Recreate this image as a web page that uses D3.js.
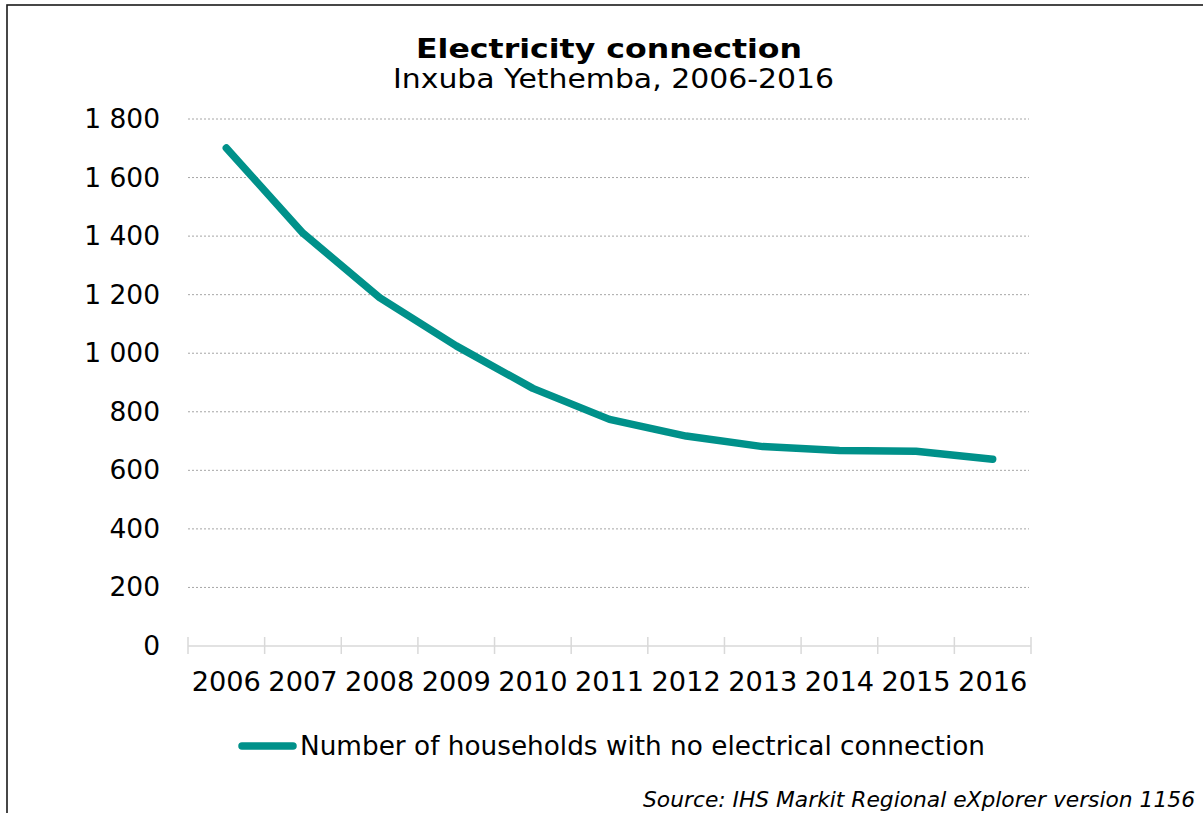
<!DOCTYPE html>
<html>
<head>
<meta charset="utf-8">
<script src="https://cdn.jsdelivr.net/npm/d3@7"></script>
<style>
  html, body { margin: 0; padding: 0; background: #fff; }
  svg { display: block; font-family: "DejaVu Sans", Verdana, sans-serif; }
</style>
</head>
<body>
<svg id="chart" width="1203" height="813"></svg>
<script>
// Households without an electrical connection, Inxuba Yethemba
const years = ["2006", "2007", "2008", "2009", "2010", "2011", "2012", "2013", "2014", "2015", "2016"];
const households = [1701, 1410, 1190, 1025, 880, 774, 717, 681, 668, 665, 638];
const yTicks = [0, 200, 400, 600, 800, 1000, 1200, 1400, 1600, 1800];
const seriesName = "Number of households with no electrical connection";
const titleText = "Electricity connection";
const subtitleText = "Inxuba Yethemba, 2006-2016";
const sourceText = "Source: IHS Markit Regional eXplorer version 1156";

const svg = d3.select("#chart");
const lineColor = "#00918a";

// outer frame (extends past the right and bottom edges)
svg.append("rect")
  .attr("x", 7).attr("y", 5)
  .attr("width", 1260).attr("height", 900)
  .attr("fill", "none").attr("stroke", "#1a1a1a").attr("stroke-width", 1.6);

const plot = { left: 188, right: 1031, top: 119, bottom: 646 };

const x = d3.scaleBand().domain(years).range([plot.left, plot.right]).padding(0);
const y = d3.scaleLinear().domain([0, 1800]).range([plot.bottom, plot.top]);

const fmt = d3.formatLocale({ decimal: ".", thousands: " ", grouping: [3], currency: ["", ""] }).format(",d");

// fit a text element to a given rendered width
function fitWidth(sel, w) {
  sel.attr("textLength", w).attr("lengthAdjust", "spacingAndGlyphs");
}

// horizontal dotted gridlines
svg.append("g")
  .selectAll("line")
  .data(yTicks.filter(d => d > 0))
  .join("line")
  .attr("x1", plot.left).attr("x2", plot.right - 2)
  .attr("y1", d => y(d)).attr("y2", d => y(d))
  .attr("stroke", "#a6a6a6").attr("stroke-width", 1)
  .attr("stroke-dasharray", "2,2");

// y axis labels
svg.append("g")
  .selectAll("text")
  .data(yTicks)
  .join("text")
  .attr("x", 160).attr("y", d => y(d) + 9)
  .attr("text-anchor", "end")
  .attr("font-size", 26.5)
  .attr("fill", "#000")
  .text(d => fmt(d));

// x axis with cross ticks at category boundaries
const xAxisG = svg.append("g");
xAxisG.append("line")
  .attr("x1", plot.left).attr("x2", plot.right)
  .attr("y1", y(0)).attr("y2", y(0))
  .attr("stroke", "#d9d9d9").attr("stroke-width", 1.5);
const boundaries = years.map(d => x(d)).concat([x(years[years.length - 1]) + x.bandwidth()]);
xAxisG.selectAll("line.tick")
  .data(boundaries)
  .join("line")
  .attr("class", "tick")
  .attr("x1", d => d).attr("x2", d => d)
  .attr("y1", y(0) - 9).attr("y2", y(0) + 8)
  .attr("stroke", "#d9d9d9").attr("stroke-width", 1.5);
xAxisG.selectAll("text")
  .data(years)
  .join("text")
  .attr("x", d => x(d) + x.bandwidth() / 2)
  .attr("y", 691)
  .attr("text-anchor", "middle")
  .attr("font-size", 27.2)
  .attr("fill", "#000")
  .text(d => d);

// series line
const line = d3.line()
  .x((d, i) => x(years[i]) + x.bandwidth() / 2)
  .y(d => y(d));
svg.append("path")
  .datum(households)
  .attr("d", line)
  .attr("fill", "none")
  .attr("stroke", lineColor)
  .attr("stroke-width", 7.5)
  .attr("stroke-linecap", "round")
  .attr("stroke-linejoin", "round");

// titles
svg.append("text")
  .attr("x", 609).attr("y", 58)
  .attr("text-anchor", "middle")
  .attr("font-size", 27).attr("font-weight", "bold")
  .text(titleText)
  .call(fitWidth, 386);
svg.append("text")
  .attr("x", 613.5).attr("y", 88)
  .attr("text-anchor", "middle")
  .attr("font-size", 26)
  .text(subtitleText)
  .call(fitWidth, 441);

// legend
const legend = svg.append("g");
legend.append("line")
  .attr("x1", 242).attr("x2", 293)
  .attr("y1", 746).attr("y2", 746)
  .attr("stroke", lineColor).attr("stroke-width", 7.5)
  .attr("stroke-linecap", "round");
legend.append("text")
  .attr("x", 300).attr("y", 755)
  .attr("font-size", 26)
  .text(seriesName)
  .call(fitWidth, 685);

// source note
svg.append("text")
  .attr("x", 643).attr("y", 807)
  .attr("font-size", 22).attr("font-style", "italic")
  .text(sourceText)
  .call(fitWidth, 552);
</script>
</body>
</html>
